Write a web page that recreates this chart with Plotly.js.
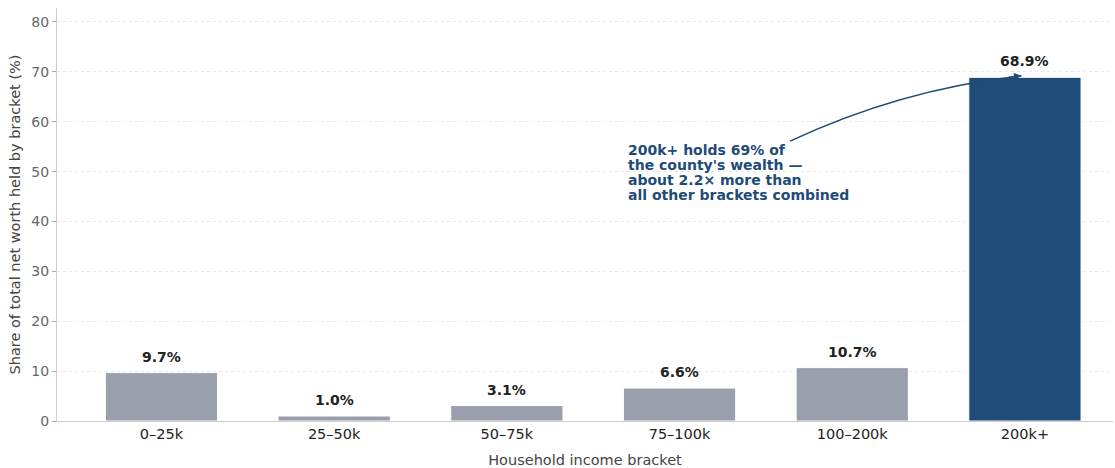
<!DOCTYPE html>
<html>
<head>
<meta charset="utf-8">
<script src="https://cdn.plot.ly/plotly-3.0.1.min.js"></script>
<style>html,body{margin:0;padding:0;background:#fff;}#chart{width:1115px;height:468px;}</style>
</head>
<body>
<div id="chart"></div>
<script>
const categories = ["0–25k", "25–50k", "50–75k", "75–100k", "100–200k", "200k+"];
const shares = [9.7, 1.0, 3.1, 6.6, 10.7, 68.9];
const labels = ["9.7%", "1.0%", "3.1%", "6.6%", "10.7%", "68.9%"];
const calloutLines = ["200k+ holds 69% of", "the county's wealth —", "about 2.2× more than", "all other brackets combined"];
const yTicks = [0, 10, 20, 30, 40, 50, 60, 70, 80];

const FONT = "DejaVu Sans, Verdana, sans-serif";
const GRAY = "#9a9fad";
const NAVY = "#1f4b78";

const idx = categories.map((_, i) => i);
const topIdx = shares.indexOf(Math.max(...shares));
const colors = shares.map((_, i) => i === topIdx ? NAVY : GRAY);

const trace = {
  type: "bar",
  x: idx,
  y: shares,
  width: 0.65,
  marker: {color: colors, line: {color: "#ffffff", width: 1}},
  hoverinfo: "skip"
};

const annotations = labels.map((t, i) => ({
  x: i, y: shares[i], xref: "x", yref: "y",
  text: t, showarrow: false, yanchor: "bottom", yshift: 6,
  font: {family: FONT, size: 14, color: "#222222", weight: "bold"}
}));

// callout text lines
calloutLines.forEach((t, i) => {
  annotations.push({
    x: 2.69, y: 54.3, xref: "x", yref: "y",
    text: "<b>" + t + "</b>", showarrow: false,
    xanchor: "left", yanchor: "middle", align: "left", yshift: -14.8 * i,
    font: {family: FONT, size: 14, color: NAVY}
  });
});

// arrowhead at end of curve
const arrowEnd = {x: topIdx - 0.02, y: shares[topIdx] + 0.3};
annotations.push({
  x: arrowEnd.x, y: arrowEnd.y, xref: "x", yref: "y",
  ax: -14, ay: 1.5, axref: "pixel", ayref: "pixel",
  text: "", showarrow: true, arrowhead: 2, arrowsize: 1, arrowwidth: 1.5,
  arrowcolor: NAVY
});

const arrowStart = {x: 3.64, y: 56.1};
const ctrl = {x: 4.28, y: 66.5};

const layout = {
  width: 1115, height: 468,
  margin: {l: 57, r: 2, t: 8, b: 47},
  paper_bgcolor: "#ffffff", plot_bgcolor: "#ffffff",
  showlegend: false,
  font: {family: FONT, color: "#222"},
  xaxis: {
    type: "linear",
    range: [-0.605, 5.51],
    tickvals: idx, ticktext: categories,
    tickfont: {family: FONT, size: 14.5, color: "#222222"},
    showgrid: false, zeroline: false,
    showline: true, linecolor: "#cccccc", linewidth: 1,
    ticks: "",
    title: {text: "Household income bracket", font: {family: FONT, size: 14.5, color: "#444444"}, standoff: 15},
    fixedrange: true
  },
  yaxis: {
    range: [0, 82.8],
    tickvals: yTicks,
    tickfont: {family: FONT, size: 14, color: "#666666"},
    showgrid: true, gridcolor: "#e8e8e8", gridwidth: 1, griddash: "3px,3px",
    zeroline: false,
    showline: true, linecolor: "#cccccc", linewidth: 1,
    ticks: "outside", ticklen: 4, tickcolor: "#aaaaaa",
    title: {text: "Share of total net worth held by bracket (%)", font: {family: FONT, size: 14.5, color: "#444444"}, standoff: 7},
    fixedrange: true
  },
  annotations: annotations,
  shapes: [{
    type: "path", xref: "x", yref: "y",
    path: `M ${arrowStart.x} ${arrowStart.y} Q ${ctrl.x} ${ctrl.y} ${arrowEnd.x} ${arrowEnd.y}`,
    line: {color: NAVY, width: 1.5}, layer: "above"
  }]
};

Plotly.newPlot("chart", [trace], layout, {displayModeBar: false, staticPlot: true});
</script>
</body>
</html>
